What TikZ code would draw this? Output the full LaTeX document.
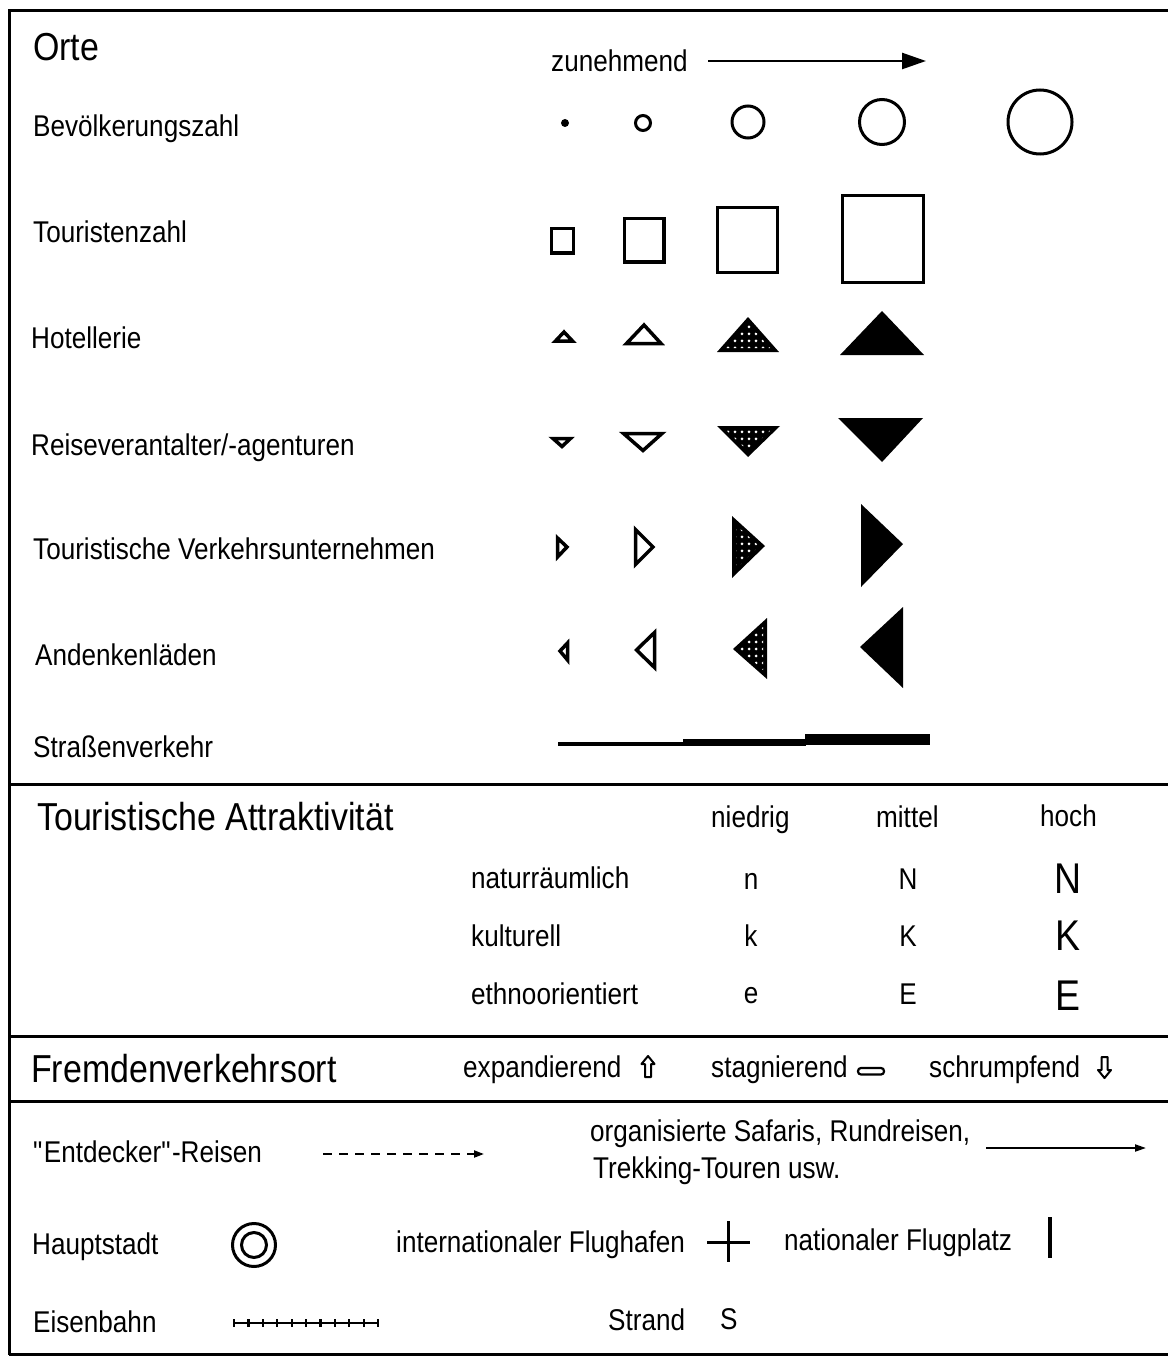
\documentclass[tikz,border=0pt]{standalone}
\usepackage{fontspec}
\setmainfont{Liberation Sans}[FakeStretch=0.87]
\usetikzlibrary{arrows.meta,patterns.meta}
\tikzdeclarepattern{
  name=wdots,
  type=uncolored,
  bounding box={(-3.5pt,-3.5pt) and (3.5pt,3.5pt)},
  tile size={(7pt,7pt)},
  code={\fill (0pt,0pt) circle (1.5pt);}
}
\tikzset{
  lbl/.style={anchor=base west, inner sep=0pt, font=\fontsize{30}{36}\selectfont},
  head/.style={anchor=base west, inner sep=0pt, font=\fontsize{39}{46}\selectfont},
  letr/.style={anchor=base, inner sep=0pt, font=\fontsize{30}{36}\selectfont},
  bigletr/.style={anchor=base, inner sep=0pt, font=\fontsize{43}{50}\selectfont},
  frame/.style={line width=3pt},
  outl/.style={line width=3.5pt},
  stip/.style={pattern=wdots, pattern color=white},
}
\begin{document}
\begin{tikzpicture}[x=1pt,y=-1pt]
\useasboundingbox (0,0) rectangle (1168,1356);
% frame
\draw[frame] (9,1355) -- (9,11) -- (1168,11);
\draw[frame] (9,784) -- (1168,784);
\draw[frame] (9,1036) -- (1168,1036);
\draw[frame] (9,1101) -- (1168,1101);
\draw[frame] (9,1354) -- (1168,1354);

% ---------------- Orte
\node[head] (orte) at (33,61) {Orte};
\node[lbl] (zun) at (551,72) {zunehmend};
\coordinate (zA) at (708,61);
\coordinate (zB) at (926,61);
\draw[line width=2.5pt,-{Triangle[length=24pt,width=16pt]}] (zA) -- (zB);

\node[lbl] (bev) at (33,137) {Bevölkerungszahl};
\fill (565,123) circle (4);
\draw[line width=3pt] (643,123) circle (7.5);
\draw[line width=3pt] (748,122) circle (16);
\draw[line width=3pt] (882,122) circle (22.5);
\draw[line width=3pt] (1040,122) circle (32);

\node[lbl] (tour) at (33,243) {Touristenzahl};
\draw[line width=3pt] (551.5,228.5) rectangle (573,253);
\draw[outl] (624.5,218.5) rectangle (664,262);
\draw[outl] (717.5,207.5) rectangle (777.5,272.5);
\draw[outl] (842.5,195.5) rectangle (923.5,282.5);

\node[lbl] (hot) at (31,348) {Hotellerie};
\draw[outl] (555.5,341) -- (564,332) -- (572.5,341) -- cycle;
\draw[outl] (626.5,343.5) -- (644,325) -- (661,343.5) -- cycle;
\fill (717,352) -- (748,317) -- (779,352) -- cycle;
\fill[stip] (726,348) -- (748,323.5) -- (770,348) -- cycle;
\fill (840,355) -- (882,311) -- (924,355) -- cycle;

\node[lbl] (reise) at (31,455) {Reiseverantalter/-agenturen};
\draw[outl] (553,438.5) -- (570.5,438.5) -- (562,446.5) -- cycle;
\draw[outl] (623.5,433.5) -- (662,433.5) -- (643,450.5) -- cycle;
\fill (717,426) -- (780,426) -- (748,457) -- cycle;
\fill[stip] (726,430) -- (771,430) -- (748,451) -- cycle;
\fill (838,418) -- (923,418) -- (882,462) -- cycle;

\node[lbl] (verk) at (33,559) {Touristische Verkehrsunternehmen};
\draw[outl] (557.5,538) -- (557.5,557) -- (567,547) -- cycle;
\draw[outl] (635.5,529.5) -- (635.5,564.5) -- (653,547) -- cycle;
\fill (732,516) -- (732,578) -- (765,546) -- cycle;
\fill[stip] (736,525) -- (736,569) -- (759,546) -- cycle;
\fill (861,504) -- (861,587) -- (903,544) -- cycle;

\node[lbl] (anden) at (35,665) {Andenkenläden};
\draw[outl] (567.5,643) -- (567.5,660) -- (560,651) -- cycle;
\draw[outl] (654.5,632.5) -- (654.5,667.5) -- (636.5,650) -- cycle;
\fill (767,618) -- (767,679) -- (733,649) -- cycle;
\fill[stip] (763,627) -- (763,670) -- (740,649) -- cycle;
\fill (903,607) -- (903,688) -- (860,647) -- cycle;

\node[lbl] (strasse) at (33,757) {Straßenverkehr};
\fill (558,742) rectangle (684,746);
\fill (683,738.5) rectangle (806,746);
\fill (805,734) rectangle (930,745);

% ---------------- Touristische Attraktivitaet
\node[head] (attr) at (37,830) {Touristische Attraktivität};
\node[lbl] (nied) at (711,827) {niedrig};
\node[lbl] (mitt) at (876,827) {mittel};
\node[lbl] (hoch) at (1040,826) {hoch};

\node[lbl] (natur) at (471,888) {naturräumlich};
\node[lbl] (kult) at (471,946) {kulturell};
\node[lbl] (ethno) at (471,1004) {ethnoorientiert};

\node[letr] (n1) at (751,889) {n};
\node[letr] (n2) at (908,889) {N};
\node[bigletr] (n3) at (1068,893) {N};
\node[letr] (k1) at (751,946) {k};
\node[letr] (k2) at (908,946) {K};
\node[bigletr] (k3) at (1068,950) {K};
\node[letr] (e1) at (751,1003) {e};
\node[letr] (e2) at (908,1004) {E};
\node[bigletr] (e3) at (1068,1010) {E};

% ---------------- Fremdenverkehrsort
\node[head] (fremd) at (31,1082) {Fremdenverkehrsort};
\node[lbl] (exp) at (463,1077) {expandierend};
\draw[line width=2pt,line join=round] (648,1056) -- (654.5,1064) -- (651,1064) -- (651,1077) -- (645,1077) -- (645,1064) -- (641.5,1064) -- cycle;
\node[lbl] (stag) at (711,1077) {stagnierend};
\draw[line width=2.2pt,rounded corners=3pt] (858,1068) rectangle (884,1074.5);
\node[lbl] (schr) at (929,1077) {schrumpfend};
\draw[line width=2pt,line join=round] (1104.5,1078) -- (1111,1070) -- (1107.5,1070) -- (1107.5,1057) -- (1101.5,1057) -- (1101.5,1070) -- (1098,1070) -- cycle;

% ---------------- last section
\node[lbl] (entd) at (33,1162) {\textquotedbl Entdecker\textquotedbl -Reisen};
\coordinate (dA) at (323,1154);
\coordinate (dB) at (484,1154);
\draw[line width=2pt,dash pattern=on 9pt off 7pt,-{Triangle[length=10pt,width=7pt]}] (dA) -- (dB);
\node[lbl] (org1) at (590,1141) {organisierte Safaris, Rundreisen,};
\node[lbl] (org2) at (593,1178) {Trekking-Touren usw.};
\coordinate (sA) at (986,1148);
\coordinate (sB) at (1146,1148);
\draw[line width=2pt,-{Triangle[length=11pt,width=7pt]}] (sA) -- (sB);

\node[lbl] (haupt) at (32,1254) {Hauptstadt};
\draw[line width=3pt] (254,1245) circle (21.5);
\draw[line width=3pt] (254,1245) circle (12.5);
\node[lbl] (intl) at (396,1252) {internationaler Flughafen};
\draw[line width=3pt] (707,1242) -- (750,1242) (728,1221) -- (728,1262);
\node[lbl] (natl) at (784,1250) {nationaler Flugplatz};
\draw[line width=4pt] (1050,1217) -- (1050,1258);

\node[lbl] (eisen) at (33,1332) {Eisenbahn};
\draw[line width=2pt] (233,1323) -- (378,1323);
\foreach \i in {0,...,10} \draw[line width=2.2pt] ({234+\i*14.4},1319) -- ++(0,8);
\node[lbl] (strand) at (608,1330) {Strand};
\node[lbl] (sss) at (720,1329) {S};
\end{tikzpicture}
\end{document}
